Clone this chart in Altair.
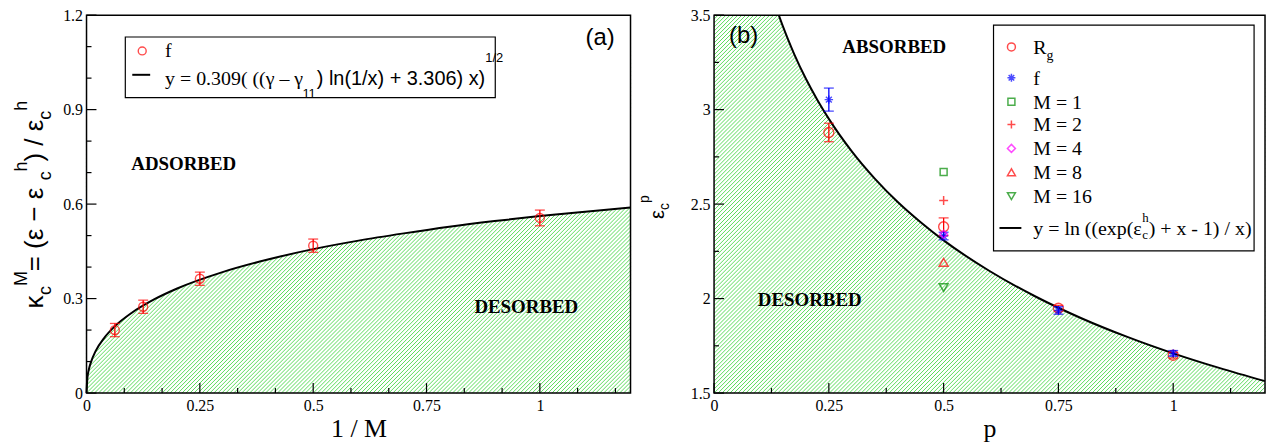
import altair as alt
import pandas as pd

# ---------------- panel (a) data ----------------
a_inv_m = [0.0625, 0.125, 0.25, 0.5, 1.0]
a_kappa = [0.200, 0.274, 0.363, 0.468, 0.556]
a_kappa_err = [0.021, 0.021, 0.021, 0.021, 0.025]
a_fit_x = [0, 0.002, 0.005, 0.01, 0.02, 0.04, 0.0625, 0.1, 0.15, 0.2, 0.3, 0.4,
           0.5, 0.6, 0.7, 0.8, 0.9, 1.0, 1.1, 1.2]
a_fit_y = [0, 0.049, 0.074, 0.099, 0.133, 0.177, 0.212, 0.255, 0.298, 0.332, 0.384,
           0.424, 0.457, 0.484, 0.507, 0.528, 0.546, 0.562, 0.576, 0.589]
a_x_major = [0, 0.25, 0.5, 0.75, 1.0]
a_x_minor = [0.0833, 0.1667, 0.3333, 0.4167, 0.5833, 0.6667, 0.8333, 0.9167, 1.0833, 1.1667]
a_y_major = [0, 0.3, 0.6, 0.9, 1.2]
a_y_minor = [0.1, 0.2, 0.4, 0.5, 0.7, 0.8, 1.0, 1.1]

# ---------------- panel (b) data ----------------
b_p = [0.25, 0.5, 0.75, 1.0]
b_rg = [2.879, 2.380, 1.949, 1.700]
b_rg_err = [0.049, 0.047, 0.015, 0.015]
b_f = [3.053, 2.331, 1.937, 1.710]
b_f_err = [0.061, 0.020, 0.020, 0.015]
b_m_names = ["M = 1", "M = 2", "M = 4", "M = 8", "M = 16"]
b_m_p = [0.5, 0.5, 0.5, 0.5, 0.5]
b_m_eps = [2.670, 2.519, 2.340, 2.192, 2.058]
b_fit_x = [0.141, 0.15, 0.16, 0.175, 0.2, 0.225, 0.25, 0.3, 0.35, 0.4, 0.45, 0.5,
           0.6, 0.7, 0.8, 0.9, 1.0, 1.1, 1.2]
b_fit_y = [3.5, 3.44, 3.378, 3.291, 3.163, 3.051, 2.951, 2.779, 2.635, 2.511, 2.404,
           2.308, 2.146, 2.011, 1.896, 1.797, 1.710, 1.633, 1.563]
b_x_major = [0, 0.25, 0.5, 0.75, 1.0]
b_x_minor = [0.125, 0.375, 0.625, 0.875, 1.125]
b_y_major = [1.5, 2.0, 2.5, 3.0, 3.5]
b_y_minor = [1.75, 2.25, 2.75, 3.25]

# ---------------- styles ----------------
SANS = "Liberation Sans"
SERIF = "Liberation Serif"
RED, BLUE, GREEN, MAGENTA = "#ff0000", "#0000ff", "#008b00", "#ff00ff"
HATCH = "#5cdc5c"
HATCH_STEP = 4.0
PLUS = "M-1,0L1,0M0,-1L0,1"
STAR = "M-1,0L1,0M0,-1L0,1M-0.7,-0.7L0.7,0.7M-0.7,0.7L0.7,-0.7"
m_styles = [("square", GREEN, 49), (PLUS, RED, 81), ("diamond", MAGENTA, 64),
            ("triangle-up", RED, 81), ("triangle-down", GREEN, 81)]

WA, WB, H = 547, 554, 380
ONE = pd.DataFrame({"k": [0]})

W_SANS = {' ': .278, '(': .333, ')': .333, '/': .278, '=': .584, '+': .584, '\u2212': .584,
          '-': .333, '.': .278, 'c': .5, 'h': .556, 'x': .5, 'l': .222, 'n': .556,
          'M': .833, 'p': .556, 'a': .556, 'b': .556, '\u03ba': .52, '\u03b5': .45}
W_SERIF = {' ': .25, '(': .333, ')': .333, '/': .278, '=': .564, '+': .564, '-': .333,
           '\u2013': .5, '.': .25, 'y': .5, 'f': .333, 'R': .667, 'g': .5, 'M': .889,
           'l': .278, 'n': .5, 'e': .444, 'x': .5, 'p': .5, 'c': .444, 'h': .5,
           '\u03b3': .42, '\u03b5': .44}


def tw(s, font, size):
    tab = W_SANS if font == SANS else W_SERIF
    dig = 0.556 if font == SANS else 0.5
    return sum(tab.get(ch, dig if ch.isdigit() else 0.5) for ch in s) * size


def piece(text, x, y, font, size, angle=0, weight="normal", align="left", color="black"):
    return alt.Chart(ONE).mark_text(
        text=text, font=font, fontSize=size, angle=angle, fontWeight=weight,
        align=align, baseline="alphabetic", color=color
    ).encode(x=alt.value(x), y=alt.value(y))


def run(segs, x0, y0, angle=0):
    """segs: (text, font, size, shift, advance?)"""
    out, pos, pending = [], 0.0, 0.0
    for text, font, size, shift, adv in segs:
        if angle == 0:
            out.append(piece(text, x0 + pos, y0 - shift, font, size))
        else:
            out.append(piece(text, x0 - shift, y0 - pos, font, size, angle=270))
        w = tw(text, font, size)
        if adv:
            pos += max(w, pending)
            pending = 0.0
        else:
            pending = max(pending, w)
    return out


def hatch_lines(W, xdom, ydom):
    """45-degree hatch segments across the plot rectangle (fill styling only)."""
    rows = []
    b = -H
    while b < W:
        t0, t1 = max(0.0, -b), min(float(H), W - b)
        if t1 > t0:
            px0, py0, px1, py1 = b + t0, H - t0, b + t1, H - t1
            rows.append({
                "x": xdom[0] + px0 / W * (xdom[1] - xdom[0]),
                "x2": xdom[0] + px1 / W * (xdom[1] - xdom[0]),
                "y": ydom[1] - py0 / H * (ydom[1] - ydom[0]),
                "y2": ydom[1] - py1 / H * (ydom[1] - ydom[0]),
            })
        b += HATCH_STEP
    return pd.DataFrame(rows)


def ticks(xmaj, xmin, ymaj, ymin, X, Y):
    lay = []
    for vals, L in ((xmaj, 10), (xmin, 5)):
        lay.append(alt.Chart(pd.DataFrame({"v": vals})).mark_rule(color="black", strokeWidth=1.2)
                   .encode(x=X("v"), y=alt.value(H), y2=alt.value(H - L)))
    for vals, L in ((ymaj, 10), (ymin, 5)):
        lay.append(alt.Chart(pd.DataFrame({"v": vals})).mark_rule(color="black", strokeWidth=1.2)
                   .encode(y=Y("v"), x=alt.value(0), x2=alt.value(L)))
    return lay


def frame(W):
    return alt.Chart(ONE).mark_rect(fill="white", fillOpacity=0, stroke="black",
                                    strokeWidth=1.5).encode(
        x=alt.value(0), x2=alt.value(W), y=alt.value(0), y2=alt.value(H))


def marker(x, y):
    # tiny white stub that fixes the panel's outer bounds for the layout
    return alt.Chart(ONE).mark_rule(color="white", strokeWidth=1).encode(
        x=alt.value(x), x2=alt.value(x), y=alt.value(y), y2=alt.value(y + 1))


# ---------------- panel (a) ----------------
def XA(f):
    return alt.X(f"{f}:Q", scale=alt.Scale(domain=[0, 1.2], nice=False, zero=False),
                 axis=alt.Axis(values=a_x_major, labelExpr="datum.value", labelPadding=5,
                               labelFlush=False, title="1 / M", titlePadding=2))


def YA(f):
    return alt.Y(f"{f}:Q", scale=alt.Scale(domain=[0, 1.2], nice=False, zero=False),
                 axis=alt.Axis(values=a_y_major, labelExpr="datum.value", labelPadding=4,
                               labelFlush=False, title=None))


a_fit = pd.DataFrame({"x": a_fit_x, "y": a_fit_y})
a_pts = pd.DataFrame({"x": a_inv_m, "y": a_kappa,
                      "lo": [v - e for v, e in zip(a_kappa, a_kappa_err)],
                      "hi": [v + e for v, e in zip(a_kappa, a_kappa_err)]})
a_hatch = hatch_lines(WA, (0, 1.2), (0, 1.2))

a_layers = [
    marker(-76, -10),
    alt.Chart(a_hatch).mark_rule(color=HATCH, strokeWidth=1)
    .encode(x=XA("x"), y=YA("y"), x2="x2", y2="y2"),
    alt.Chart(a_fit).mark_area(color="white", interpolate="monotone")
    .encode(x=XA("x"), y=YA("y"), y2=alt.datum(1.2)),
    alt.Chart(a_fit).mark_line(color="black", strokeWidth=2, interpolate="monotone")
    .encode(x=XA("x"), y=YA("y")),
]
a_layers += ticks(a_x_major, a_x_minor, a_y_major, a_y_minor, XA, YA)
a_layers += [
    alt.Chart(a_pts).mark_rule(color=RED, strokeWidth=1.3)
    .encode(x=XA("x"), y=YA("lo"), y2="hi"),
    alt.Chart(a_pts).mark_tick(color=RED, orient="horizontal", size=10, thickness=1.3)
    .encode(x=XA("x"), y=YA("lo")),
    alt.Chart(a_pts).mark_tick(color=RED, orient="horizontal", size=10, thickness=1.3)
    .encode(x=XA("x"), y=YA("hi")),
    alt.Chart(a_pts).mark_point(shape="circle", color=RED, size=81, strokeWidth=1.4, filled=False)
    .encode(x=XA("x"), y=YA("y")),
    # legend
    alt.Chart(ONE).mark_rect(fill="white", stroke="black", strokeWidth=1.2)
    .encode(x=alt.value(39), x2=alt.value(411), y=alt.value(22), y2=alt.value(83)),
    alt.Chart(ONE).mark_point(shape="circle", color=RED, size=64, strokeWidth=1.4, filled=False)
    .encode(x=alt.value(56), y=alt.value(36)),
    alt.Chart(ONE).mark_rule(color="black", strokeWidth=2)
    .encode(x=alt.value(46), x2=alt.value(64), y=alt.value(60)),
    piece("f", 79, 42, SERIF, 20),
    piece("ADSORBED", 45, 156, SERIF, 19, weight="bold"),
    piece("DESORBED", 390, 300, SERIF, 19, weight="bold"),
    piece("(a)", 531, 30, SANS, 24, align="right"),
    frame(WA),
]
a_layers += run([("y = 0.309( ((\u03b3 \u2013 \u03b3", SERIF, 20, 0, True),
                 ("11", SANS, 13, -13, True),
                 (") ln(1/x) + 3.306) x)", SANS, 20, 0, True),
                 ("1/2", SANS, 13, 23, True)], 79, 70)
a_layers += run([("\u03ba", SANS, 26, 0, True), ("c", SANS, 18, -8, True),
                 ("M", SANS, 18, 16, True), (" = (\u03b5 \u2212 \u03b5", SANS, 26, 0, True),
                 ("c", SANS, 18, -8, True), ("h", SANS, 18, 16, True),
                 (") / \u03b5", SANS, 26, 0, True), ("c", SANS, 18, -8, True),
                 ("h", SANS, 18, 16, True)], -44, 295, angle=270)

panel_a = alt.layer(*a_layers).properties(width=WA, height=H)


# ---------------- panel (b) ----------------
def XB(f):
    return alt.X(f"{f}:Q", scale=alt.Scale(domain=[0, 1.2], nice=False, zero=False),
                 axis=alt.Axis(values=b_x_major, labelExpr="datum.value", labelPadding=5,
                               labelFlush=False, title="p", titlePadding=2))


def YB(f):
    return alt.Y(f"{f}:Q", scale=alt.Scale(domain=[1.5, 3.5], nice=False, zero=False),
                 axis=alt.Axis(values=b_y_major, labelExpr="datum.value", labelPadding=4,
                               labelFlush=False, title=None))


b_fit = pd.DataFrame({"x": b_fit_x, "y": b_fit_y})
b_hatch = hatch_lines(WB, (0, 1.2), (1.5, 3.5))


def series_df(xs, ys, es):
    return pd.DataFrame({"x": xs, "y": ys, "lo": [v - e for v, e in zip(ys, es)],
                         "hi": [v + e for v, e in zip(ys, es)]})


b_rg_df = series_df(b_p, b_rg, b_rg_err)
b_f_df = series_df(b_p, b_f, b_f_err)

b_layers = [
    marker(-79, -10),
    alt.Chart(b_hatch).mark_rule(color=HATCH, strokeWidth=1)
    .encode(x=XB("x"), y=YB("y"), x2="x2", y2="y2"),
    alt.Chart(b_fit).mark_area(color="white", interpolate="monotone")
    .encode(x=XB("x"), y=YB("y"), y2=alt.datum(3.5)),
    alt.Chart(b_fit).mark_line(color="black", strokeWidth=2, interpolate="monotone")
    .encode(x=XB("x"), y=YB("y")),
]
b_layers += ticks(b_x_major, b_x_minor, b_y_major, b_y_minor, XB, YB)
for df, col, shape, size in ((b_rg_df, RED, "circle", 100), (b_f_df, BLUE, STAR, 72)):
    b_layers += [
        alt.Chart(df).mark_rule(color=col, strokeWidth=1.3)
        .encode(x=XB("x"), y=YB("lo"), y2="hi"),
        alt.Chart(df).mark_tick(color=col, orient="horizontal", size=10, thickness=1.3)
        .encode(x=XB("x"), y=YB("lo")),
        alt.Chart(df).mark_tick(color=col, orient="horizontal", size=10, thickness=1.3)
        .encode(x=XB("x"), y=YB("hi")),
        alt.Chart(df).mark_point(shape=shape, color=col, size=size, strokeWidth=1.4, filled=False)
        .encode(x=XB("x"), y=YB("y")),
    ]
for name, px, ey, (shape, col, size) in zip(b_m_names, b_m_p, b_m_eps, m_styles):
    b_layers.append(
        alt.Chart(pd.DataFrame({"x": [px], "y": [ey], "name": [name]}))
        .mark_point(shape=shape, color=col, size=size, strokeWidth=1.5, filled=False)
        .encode(x=XB("x"), y=YB("y")))

# legend (b)
rows = [32, 63, 87, 110, 134, 158, 182]
leg_syms = [("circle", RED, 81), (STAR, BLUE, 64)] + m_styles
b_layers.append(alt.Chart(ONE).mark_rect(fill="white", stroke="black", strokeWidth=1.2)
                .encode(x=alt.value(281), x2=alt.value(543), y=alt.value(10), y2=alt.value(237)))
for ry, (shape, col, size) in zip(rows, leg_syms):
    b_layers.append(alt.Chart(ONE).mark_point(shape=shape, color=col, size=min(size, 64),
                                              strokeWidth=1.5, filled=False)
                    .encode(x=alt.value(299), y=alt.value(ry)))
b_layers += [piece("R", 321, 39, SERIF, 20), piece("g", 321 + 13.3, 45, SERIF, 14),
             piece("f", 321, 70, SERIF, 20)]
for ry, name in zip(rows[2:], b_m_names):
    b_layers.append(piece(name, 321, ry + 7, SERIF, 20))
b_layers.append(alt.Chart(ONE).mark_rule(color="black", strokeWidth=2)
                .encode(x=alt.value(287), x2=alt.value(309), y=alt.value(214)))
b_layers += run([("y = ln ((exp(\u03b5", SERIF, 20, 0, True),
                 ("c", SERIF, 13, -4, False), ("h", SERIF, 13, 13, True),
                 (") + x - 1) / x)", SERIF, 20, 0, True)], 321, 221)
b_layers += [
    piece("ABSORBED", 129, 38, SERIF, 19, weight="bold"),
    piece("DESORBED", 44, 292, SERIF, 19, weight="bold"),
    piece("(b)", 15, 28, SANS, 24),
    frame(WB),
]
b_layers += run([("\u03b5", SANS, 20, 0, True), ("c", SANS, 14, -5, True),
                 ("p", SANS, 14, 15, True)], -50, 205, angle=270)

panel_b = alt.layer(*b_layers).properties(width=WB, height=H)

chart = alt.hconcat(panel_a, panel_b, spacing=0).properties(
    padding={"left": 10, "top": 3, "right": 0, "bottom": 0}
).configure_view(strokeWidth=0).configure_axis(
    labelFont=SERIF, labelFontSize=16, labelColor="black", titleFont=SERIF,
    titleFontSize=26, titleFontWeight="normal", titleColor="black",
    grid=False, ticks=False, domain=False)

chart.save("out.html", embed_options={"renderer": "svg", "actions": False})
